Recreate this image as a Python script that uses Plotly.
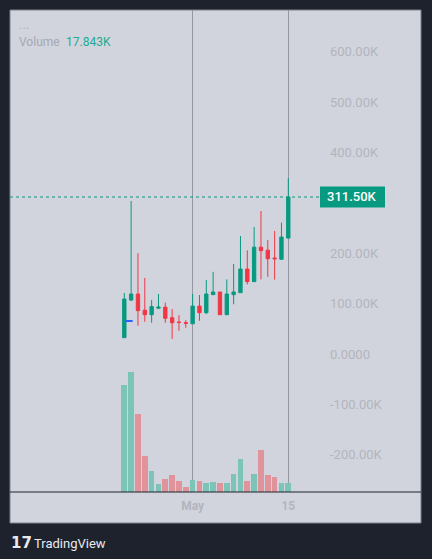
import plotly.graph_objects as go
import pandas as pd

# ---- data ----
dates = pd.date_range("2024-04-21", "2024-05-15", freq="D")
opens  = [32.4, 107, 119, 87, 78, 91, 93, 72, 63.5, 62, 60, 95, 82, 117.7, 123, 78, 117.7, 121.7, 168.6, 143.5, 212, 206, 190.5, 188, 230]
highs  = [121, 303.6, 200, 151, 107, 119, 102, 89, 77, 67, 119, 117, 147, 163, 123, 148, 178.6, 234, 205.7, 252, 283.7, 226, 244, 260.6, 349]
lows   = [32.4, 105, 56, 64, 62, 89, 62, 30, 46, 52, 60, 66, 79, 117.7, 78, 78, 98.6, 121.7, 138, 143.5, 148, 153, 147.5, 187, 230]
closes = [109, 119, 86, 78, 94, 93, 70.8, 62, 62.5, 61, 95, 82, 119, 123, 78, 119, 123, 168.6, 143.5, 212, 205, 189, 189, 232, 311.5]
volumes = [212, 238, 154, 71, 42, 16, 26, 34, 22, 10.5, 24, 22, 18, 20, 18, 18, 36, 65, 22, 36, 83, 34, 30, 18, 17.843]
marker_date = ["2024-04-21 17:00"]
marker_value = [65.5]
last_price = 311.5
tick_vals_k = [-200, -100, 0, 100, 200, 400, 500, 600]
tick_text = ["-200.00K", "-100.00K", "0.0000", "100.00K", "200.00K", "400.00K", "500.00K", "600.00K"]
x_tick_vals = ["2024-05-01", "2024-05-15"]
x_tick_text = ["May", "15"]

K = 1000
GREEN = "#089981"
RED = "#f23645"
VGREEN = "#7cc3b8"
VRED = "#e0939a"
PANEL = "#d1d4dc"
DARK = "#1e222d"
TXT = "#b2b5be"

fig = go.Figure()

vcolors = [VGREEN if c >= o else VRED for o, c in zip(opens, closes)]
fig.add_trace(go.Bar(
    x=dates, y=[v * K for v in volumes], yaxis="y2",
    marker=dict(color=vcolors, line=dict(width=0)),
    width=0.83 * 86400000, showlegend=False, hoverinfo="skip"))

fig.add_trace(go.Candlestick(
    x=dates,
    open=[v * K for v in opens], high=[v * K for v in highs],
    low=[v * K for v in lows], close=[v * K for v in closes],
    increasing=dict(line=dict(color=GREEN, width=1), fillcolor=GREEN),
    decreasing=dict(line=dict(color=RED, width=1), fillcolor=RED),
    whiskerwidth=0, showlegend=False))

fig.add_trace(go.Scatter(
    x=pd.to_datetime(marker_date), y=[v * K for v in marker_value], mode="markers",
    marker=dict(symbol="line-ew", size=5, line=dict(color="#2962ff", width=2)),
    showlegend=False, hoverinfo="skip"))

W, H = 432, 559
L, R, T, B = 10, 112, 10, 67
pw = W - L - R  # 310
ph = H - T - B  # 482

def px_x(px):
    return (px - L) / pw

def px_y(py):
    return (H - B - py) / ph

x0 = pd.Timestamp("2024-04-21") - pd.Timedelta(days=16.73)
x1 = pd.Timestamp("2024-04-21") + pd.Timedelta(days=28.64)

fig.update_layout(
    width=W, height=H,
    margin=dict(l=L, r=R, t=T, b=B),
    paper_bgcolor=DARK, plot_bgcolor=PANEL,
    font=dict(family="Roboto", color=TXT, size=12),
    bargap=0,
    xaxis=dict(
        type="date", range=[x0, x1], rangeslider=dict(visible=False),
        tickvals=x_tick_vals, ticktext=x_tick_text,
        tickfont=dict(size=12, color=TXT, weight="bold"),
        showgrid=True, gridcolor="#9598a1", gridwidth=1,
        zeroline=False, showline=False, ticks="", ticklabelstandoff=5,
        fixedrange=True),
    yaxis=dict(
        side="right", range=[-273.8 * K, 682.5 * K],
        tickvals=[v * K for v in tick_vals_k], ticktext=tick_text,
        tickfont=dict(size=13, color=TXT),
        showgrid=False, zeroline=False, showline=False, ticks="",
        ticklabelstandoff=9),
    yaxis2=dict(overlaying="y", range=[0, 956.3 * K], visible=False,
                showgrid=False, zeroline=False),
    shapes=[
        dict(type="rect", xref="paper", yref="paper",
             x0=px_x(10), x1=px_x(421), y0=px_y(523), y1=px_y(10),
             fillcolor=PANEL, line=dict(color="#7d808a", width=1), layer="below"),
        dict(type="line", xref="paper", yref="paper",
             x0=px_x(10), x1=px_x(421), y0=0, y1=0,
             line=dict(color="#1e222d", width=1)),
        dict(type="line", xref="paper", yref="y",
             x0=0, x1=1, y0=last_price * K, y1=last_price * K,
             line=dict(color=GREEN, width=1, dash="dot")),
        dict(type="rect", xref="paper", yref="y", ysizemode="pixel",
             yanchor=last_price * K, y0=-10.5, y1=10.5,
             x0=px_x(320), x1=px_x(385),
             fillcolor=GREEN, line=dict(width=0)),
    ],
    annotations=[
        dict(text="%.2fK" % last_price, xref="paper", yref="y",
             x=px_x(352.5), y=last_price * K, xanchor="center", yanchor="middle",
             showarrow=False, font=dict(size=13, color="white", family="Roboto", weight=500)),
        dict(text="...", xref="paper", yref="paper", x=px_x(17), y=px_y(24),
             xanchor="left", yanchor="middle", showarrow=False,
             font=dict(size=13, color=TXT)),
        dict(text="Volume", xref="paper", yref="paper", x=px_x(17), y=px_y(42),
             xanchor="left", yanchor="middle", showarrow=False,
             font=dict(size=12, color="#a5a8b1")),
        dict(text="17.843K", xref="paper", yref="paper", x=px_x(64), y=px_y(42),
             xanchor="left", yanchor="middle", showarrow=False,
             font=dict(size=12, color="#22ab94")),
        dict(text="<b>17</b>", xref="paper", yref="paper", x=px_x(9), y=px_y(543),
             xanchor="left", yanchor="middle", showarrow=False,
             font=dict(size=15, color="#e8eaf0", family="DejaVu Sans")),
        dict(text="TradingView", xref="paper", yref="paper", x=px_x(32), y=px_y(543),
             xanchor="left", yanchor="middle", showarrow=False,
             font=dict(size=13, color="#e8eaf0", family="Roboto")),
    ],
)

fig.write_html("out.html",
               config={"displayModeBar": False},
               post_script="document.body.style.margin='0';document.body.style.background='#1e222d';document.body.style.overflow='hidden';")
